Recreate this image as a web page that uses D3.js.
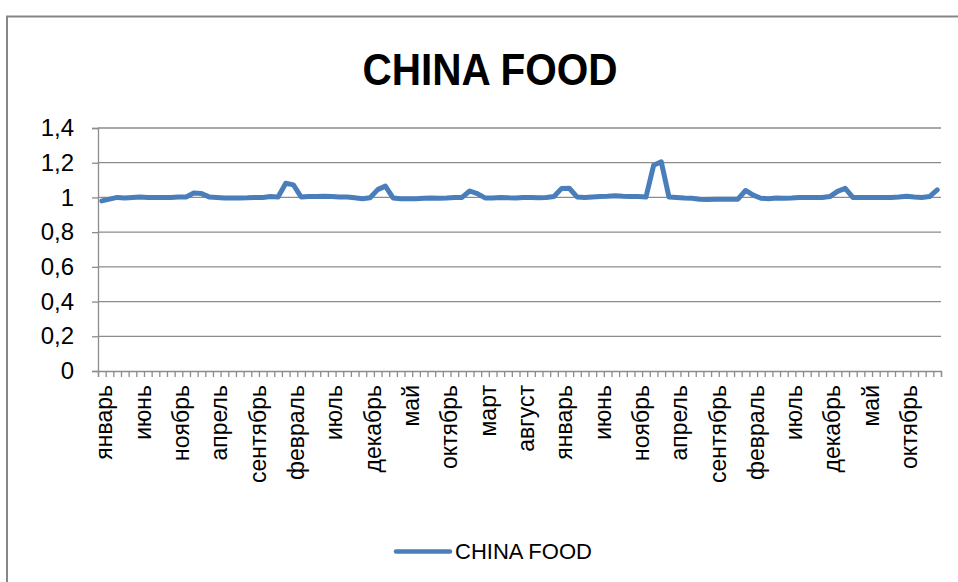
<!DOCTYPE html>
<html>
<head>
<meta charset="utf-8">
<script src="https://cdn.jsdelivr.net/npm/d3@7"></script>
<style>
  html, body { margin: 0; padding: 0; background: #fff; }
  svg { display: block; }
</style>
</head>
<body>
<svg id="chart" width="958" height="582"></svg>
<script>
// Monthly index, January through February ten years later
const monthNames = ["январь","февраль","март","апрель","май","июнь",
                    "июль","август","сентябрь","октябрь","ноябрь","декабрь"];
const seriesName = "CHINA FOOD";
const values = [
  0.980, 0.990, 1.000, 0.997, 1.000, 1.002, 1.000, 1.000, 1.000, 1.000,
  1.002, 1.003, 1.025, 1.022, 1.003, 1.000, 0.997, 0.997, 0.997, 0.998,
  1.000, 1.000, 1.005, 1.003, 1.082, 1.072, 1.003, 1.005, 1.005, 1.007,
  1.005, 1.003, 1.003, 0.998, 0.993, 0.998, 1.045, 1.065, 0.997, 0.993,
  0.993, 0.993, 0.995, 0.997, 0.995, 0.997, 1.000, 1.000, 1.037, 1.022,
  0.997, 0.997, 1.000, 0.998, 0.997, 1.000, 1.000, 0.998, 1.000, 1.005,
  1.052, 1.053, 1.003, 1.000, 1.003, 1.005, 1.007, 1.010, 1.007, 1.005,
  1.005, 1.002, 1.185, 1.205, 1.003, 1.000, 0.997, 0.995, 0.990, 0.988,
  0.990, 0.990, 0.990, 0.990, 1.040, 1.013, 0.995, 0.993, 0.997, 0.995,
  0.997, 1.000, 1.000, 1.000, 1.000, 1.005, 1.035, 1.052, 1.000, 1.000,
  1.000, 1.000, 1.000, 1.000, 1.003, 1.007, 1.003, 1.000, 1.005, 1.043
];
const categories = values.map((_, i) => monthNames[i % 12]);
const labelStep = 5;
const yTickValues = [0, 0.2, 0.4, 0.6, 0.8, 1, 1.2, 1.4];
const yTickLabels = ["0", "0,2", "0,4", "0,6", "0,8", "1", "1,2", "1,4"];

const svg = d3.select("#chart");
const plot = { left: 98, right: 941, top: 128, bottom: 371 };
const gridColor = "#8c8c8c";
const lineColor = "#4a7ebb";
const font = "'Liberation Sans', Arial, sans-serif";

svg.append("rect").attr("width", 958).attr("height", 582).attr("fill", "#fff");

// chart frame
svg.append("rect")
  .attr("x", 7).attr("y", 16.5)
  .attr("width", 980).attr("height", 620)
  .attr("fill", "none").attr("stroke", "#878787").attr("stroke-width", 2);

// title
svg.append("text")
  .attr("x", 490).attr("y", 85)
  .attr("text-anchor", "middle")
  .attr("font-family", font).attr("font-weight", "bold")
  .attr("font-size", 44)
  .attr("textLength", 255).attr("lengthAdjust", "spacingAndGlyphs")
  .text("CHINA FOOD");

const x = d3.scaleBand().domain(d3.range(values.length))
  .range([plot.left, plot.right]).padding(0);
const xEdges = d3.scaleLinear().domain([0, values.length])
  .range([plot.left, plot.right]);
const y = d3.scaleLinear().domain([0, 1.4]).range([plot.bottom, plot.top]);

// horizontal gridlines
svg.append("g")
  .selectAll("line")
  .data(yTickValues.filter(v => v > 0))
  .join("line")
  .attr("x1", plot.left).attr("x2", plot.right)
  .attr("y1", d => y(d)).attr("y2", d => y(d))
  .attr("stroke", gridColor).attr("stroke-width", 1.3);

// y axis
const yAxis = svg.append("g")
  .attr("transform", `translate(${plot.left},0)`)
  .call(d3.axisLeft(y).tickValues(yTickValues)
    .tickFormat((d, i) => yTickLabels[i]).tickSize(6).tickPadding(18));
yAxis.select(".domain").attr("stroke", gridColor).attr("stroke-width", 1.3);
yAxis.selectAll(".tick line").attr("stroke", gridColor).attr("stroke-width", 1.3);
yAxis.selectAll("text")
  .attr("font-family", font).attr("font-size", 24).attr("fill", "#000");

// x axis with tick marks at month boundaries
const xAxis = svg.append("g")
  .attr("transform", `translate(0,${plot.bottom})`)
  .call(d3.axisBottom(xEdges).tickValues(d3.range(values.length + 1))
    .tickFormat("").tickSizeOuter(0).tickSize(6));
xAxis.select(".domain").attr("stroke", gridColor).attr("stroke-width", 1.3);
xAxis.selectAll(".tick line").attr("stroke", gridColor).attr("stroke-width", 1.3);

// month labels, every fifth month
svg.append("g")
  .selectAll("text")
  .data(d3.range(0, values.length, labelStep))
  .join("text")
  .attr("transform", d => `translate(${x(d) + x.bandwidth() / 2},385) rotate(-90)`)
  .attr("dy", 10.6)
  .attr("text-anchor", "end")
  .attr("font-family", font).attr("font-size", 23).attr("fill", "#000")
  .text(d => categories[d]);

// series line
const line = d3.line()
  .x((d, i) => x(i) + x.bandwidth() / 2)
  .y(d => y(d));
svg.append("path")
  .datum(values)
  .attr("d", line)
  .attr("fill", "none")
  .attr("stroke", lineColor)
  .attr("stroke-width", 5)
  .attr("stroke-linejoin", "round")
  .attr("stroke-linecap", "round");

// legend
const legend = svg.append("g");
legend.append("line")
  .attr("x1", 396).attr("x2", 450).attr("y1", 551.5).attr("y2", 551.5)
  .attr("stroke", lineColor).attr("stroke-width", 4.5)
  .attr("stroke-linecap", "round");
legend.append("text")
  .attr("x", 455).attr("y", 559)
  .attr("font-family", font).attr("font-size", 22).attr("fill", "#000")
  .text(seriesName);
</script>
</body>
</html>
